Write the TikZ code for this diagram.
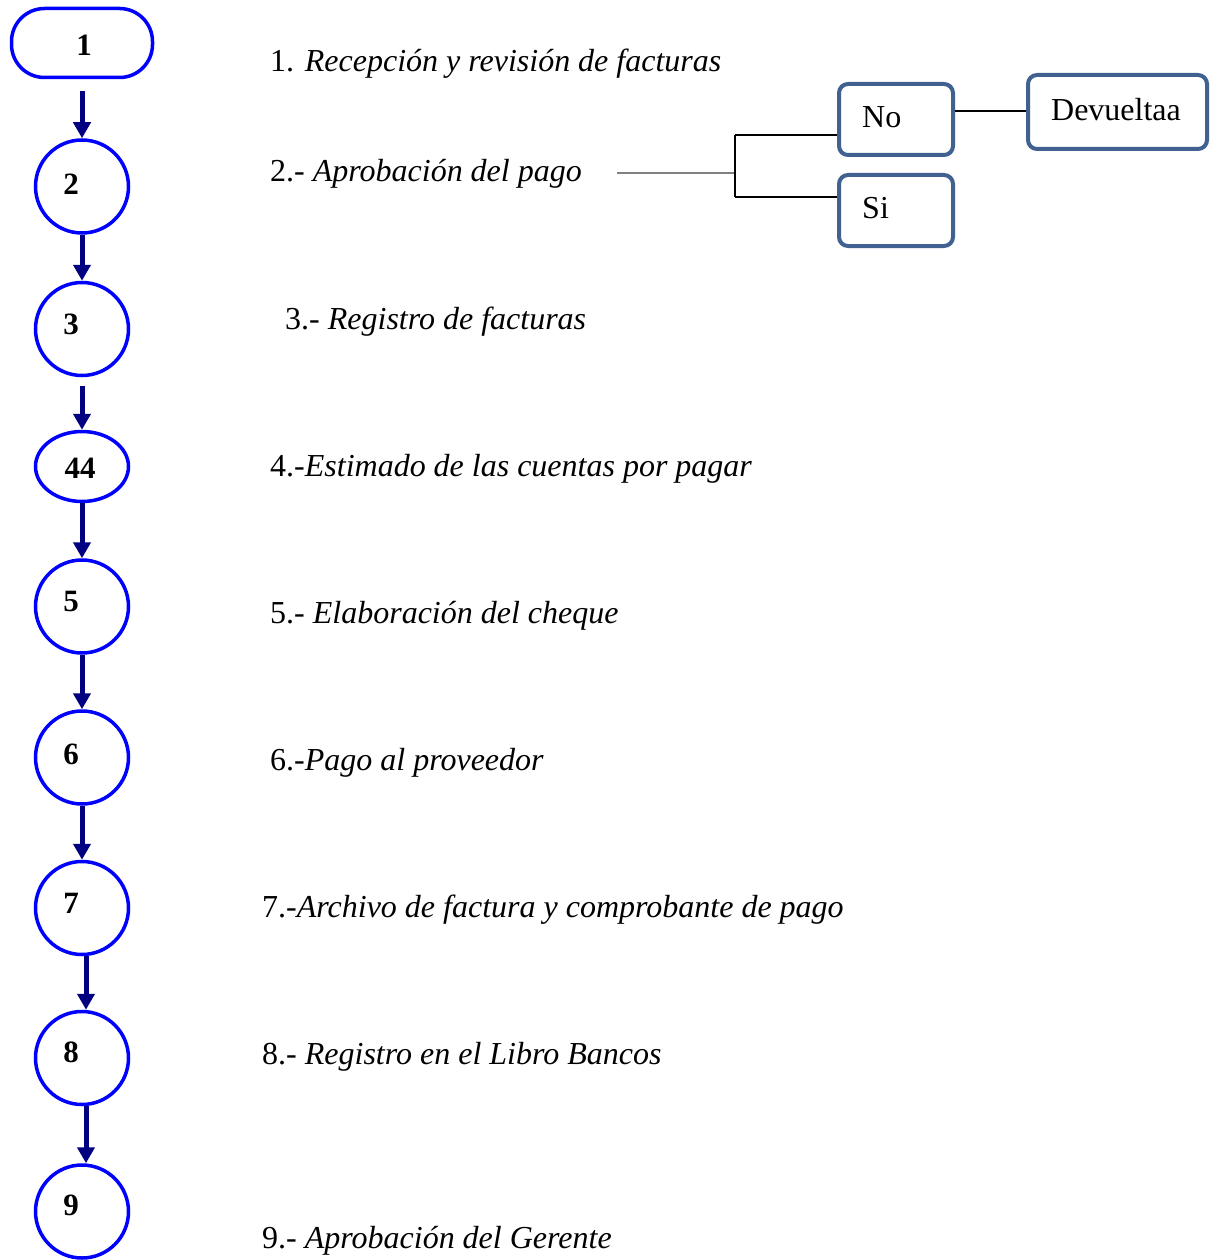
\documentclass[tikz,border=0pt]{standalone}
\usepackage{fontspec}
\setmainfont{Liberation Serif}
\usetikzlibrary{arrows.meta,shapes.geometric}
\definecolor{flowblue}{RGB}{0,0,255}
\definecolor{flownavy}{RGB}{0,0,128}
\definecolor{boxblue}{RGB}{65,98,145}
\tikzset{
	stepcircle/.style={draw=flowblue,line width=3.5pt,circle,minimum size=93pt,inner sep=0pt},
	stepnum/.style={font=\fontsize{31}{36}\selectfont\bfseries,inner sep=0pt},
	steptext/.style={anchor=base west,inner sep=0pt},
	flowarrow/.style={draw=flownavy,line width=5pt,-{Triangle[length=16pt,width=17pt]}},
	choicebox/.style={draw=boxblue,line width=4pt,rounded corners=9pt,minimum width=114pt,minimum height=71pt,inner sep=0pt},
}
\begin{document}
\begin{tikzpicture}[x=1pt,y=-1pt,font=\fontsize{32}{38}\selectfont]
	\useasboundingbox (0,0) rectangle (1216,1260);
	% Steps
	\node[draw=flowblue,line width=3.5pt,rounded corners=33pt,minimum width=141pt,minimum height=69pt] (s1) at (82,43) {};
	\node[stepcircle] (s2) at (82,186.5) {};
	\node[stepcircle] (s3) at (82,329) {};
	\node[draw=flowblue,line width=3.5pt,ellipse,minimum width=93pt,minimum height=70pt,inner sep=0pt] (s4) at (82,466.5) {};
	\node[stepcircle] (s5) at (82,606.5) {};
	\node[stepcircle] (s6) at (82,757.5) {};
	\node[stepcircle] (s7) at (82,908) {};
	\node[stepcircle] (s8) at (82,1058) {};
	\node[stepcircle] (s9) at (82,1211.5) {};
	% Numbers
	\node[stepnum] (n1) at (84,45) {1};
	\node[stepnum] (n2) at (71,184) {2};
	\node[stepnum] (n3) at (71,324) {3};
	\node[stepnum] (n4) at (80,468) {44};
	\node[stepnum] (n5) at (71,601) {5};
	\node[stepnum] (n6) at (71,754) {6};
	\node[stepnum] (n7) at (71,903) {7};
	\node[stepnum] (n8) at (71,1052) {8};
	\node[stepnum] (n9) at (71,1205) {9};
	% Arrows
	\draw[flowarrow,shorten <=12pt] (s1) -- (s2);
	\draw[flowarrow] (s2) -- (s3);
	\draw[flowarrow,shorten <=9pt] (s3) -- (s4);
	\draw[flowarrow] (s4) -- (s5);
	\draw[flowarrow] (s5) -- (s6);
	\draw[flowarrow] (s6) -- (s7);
	\draw[flowarrow] ([xshift=4pt]s7.south) -- ([xshift=4pt]s8.north);
	\draw[flowarrow] ([xshift=4pt]s8.south) -- ([xshift=4pt]s9.north);
	% Labels
	\node[steptext] (t1) at (270,72) {1. \textit{Recepción y revisión de facturas}};
	\node[steptext] (t2) at (270,182) {2.- \textit{Aprobación del pago}};
	\node[steptext] (t3) at (285,329) {3.- \textit{Registro de facturas}};
	\node[steptext] (t4) at (270,476) {4.-\textit{Estimado de las cuentas por pagar}};
	\node[steptext] (t5) at (270,623) {5.- \textit{Elaboración del cheque}};
	\node[steptext] (t6) at (270,770) {6.-\textit{Pago al proveedor}};
	\node[steptext] (t7) at (262,917) {7.-\textit{Archivo de factura y comprobante de pago}};
	\node[steptext] (t8) at (262,1064) {8.- \textit{Registro en el Libro Bancos}};
	\node[steptext] (t9) at (262,1248) {9.- \textit{Aprobación del Gerente}};
	% Branch
	\node[choicebox] (no) at (896,119.5) {};
	\node[choicebox] (si) at (896,210.5) {};
	\node[choicebox,minimum width=179pt,minimum height=74pt] (dev) at (1117.5,112) {};
	\node[anchor=west,inner sep=0pt] (notext) at (862,117) {No};
	\node[anchor=west,inner sep=0pt] (sitext) at (862,208) {Si};
	\node[inner sep=0pt] (devtext) at (1116,110) {Devueltaa};
	\coordinate (brstart) at (617,173);
	\coordinate (fork) at (735,173);
	\coordinate (forkno) at (735,135);
	\coordinate (forksi) at (735,197);
	\coordinate (linkno) at (955,111);
	\draw[gray,line width=1.5pt] (brstart) -- (fork);
	\draw[line width=1.5pt] (forkno) -- (forksi);
	\draw[line width=1.5pt] (forkno) -- (forkno -| no.west);
	\draw[line width=1.5pt] (forksi) -- (forksi -| si.west);
	\draw[line width=1.5pt] (linkno) -- (linkno -| dev.west);
\end{tikzpicture}
\end{document}
